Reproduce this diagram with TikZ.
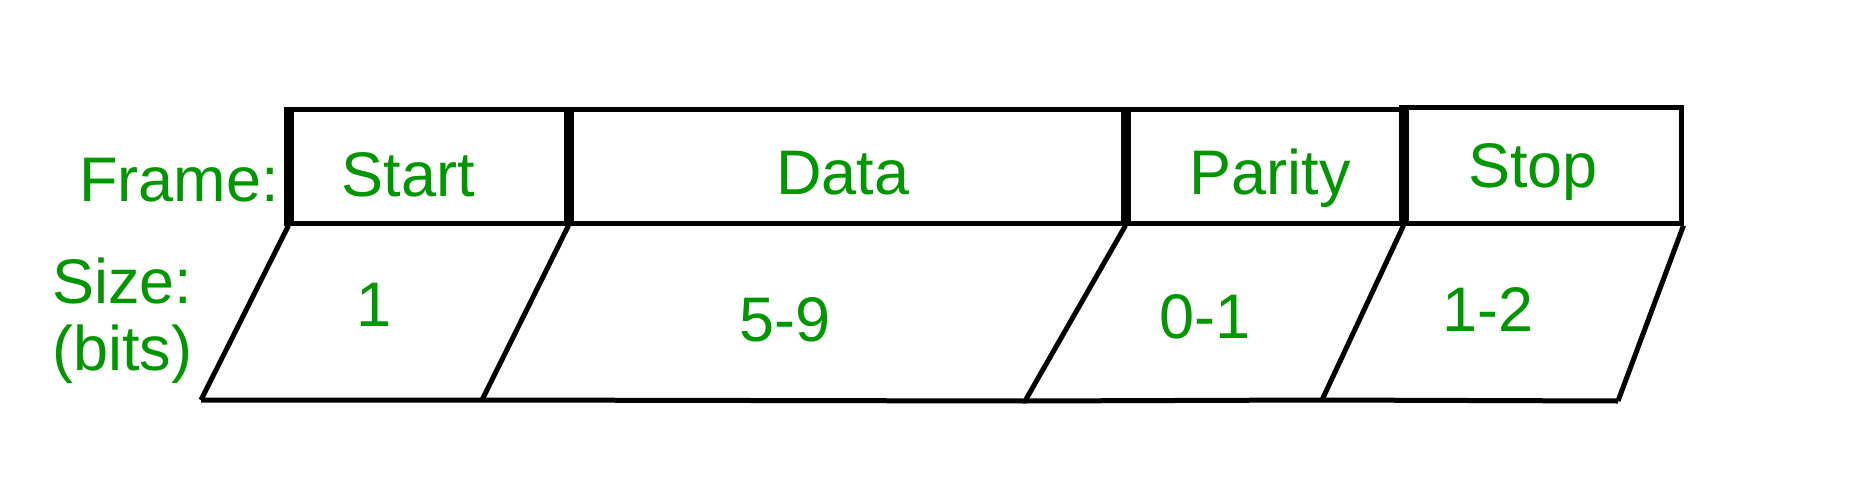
\documentclass[tikz,border=0pt]{standalone}
\usepackage{fontspec}
\setmainfont{Liberation Sans}
\definecolor{fgreen}{RGB}{0,150,0}
\tikzset{
  field/.style={draw,line width=5pt,minimum height=114pt,inner sep=0pt},
  txt/.style={text=fgreen,font=\fontsize{63}{72}\selectfont,inner sep=0pt},
  edge/.style={line width=5pt},
  thick edge/.style={line width=10pt}
}
\begin{document}
\begin{tikzpicture}[x=1pt,y=-1pt]
  \useasboundingbox (0,0) rectangle (1856,482);
  \node[field,minimum width=280pt] (start)  at (431,166)  {};
  \node[field,minimum width=557pt] (data)   at (849.5,166) {};
  \node[field,minimum width=278pt] (parity) at (1267,166) {};
  \node[field,minimum width=275pt,minimum height=116pt] (stop) at (1543.5,165) {};

  \draw[thick edge] (start.north west) -- (start.south west);
  \draw[thick edge] (data.north west) -- (data.south west);
  \draw[thick edge] (parity.north west) -- (parity.south west);
  \draw[thick edge] (stop.north west) -- (stop.south west);

  \coordinate (b1) at (201,400);
  \coordinate (b2) at (482,400);
  \coordinate (b3) at (1025,401);
  \coordinate (b4) at (1322,400);
  \coordinate (b5) at (1618,401);

  \draw[edge] (start.south west) -- (b1);
  \draw[edge] (data.south west) -- (b2);
  \draw[edge] (parity.south west) -- (b3);
  \draw[edge] (stop.south west) -- (b4);
  \draw[edge] (stop.south east) -- (b5);
  \draw[edge] (b1) -- (b2) -- (b3) -- (b4) -- (b5);

  \node[txt,anchor=east] (frame) at (279,180) {Frame:};
  \node[txt,anchor=west] (size)  at (52,281)  {Size:};
  \node[txt,anchor=west] (bits)  at (52,354)  {(bits)};

  \node[txt] (startlbl)  at (408,175)  {Start};
  \node[txt] (datalbl)   at (843,173)  {Data};
  \node[txt] (paritylbl) at (1270,178) {Parity};
  \node[txt] (stoplbl)   at (1533,172) {Stop};

  \node[txt] (startsz)  at (374,305)  {1};
  \node[txt] (datasz)   at (785,320)  {5-9};
  \node[txt] (paritysz) at (1205,317) {0-1};
  \node[txt] (stopsz)   at (1488,310) {1-2};
\end{tikzpicture}
\end{document}
